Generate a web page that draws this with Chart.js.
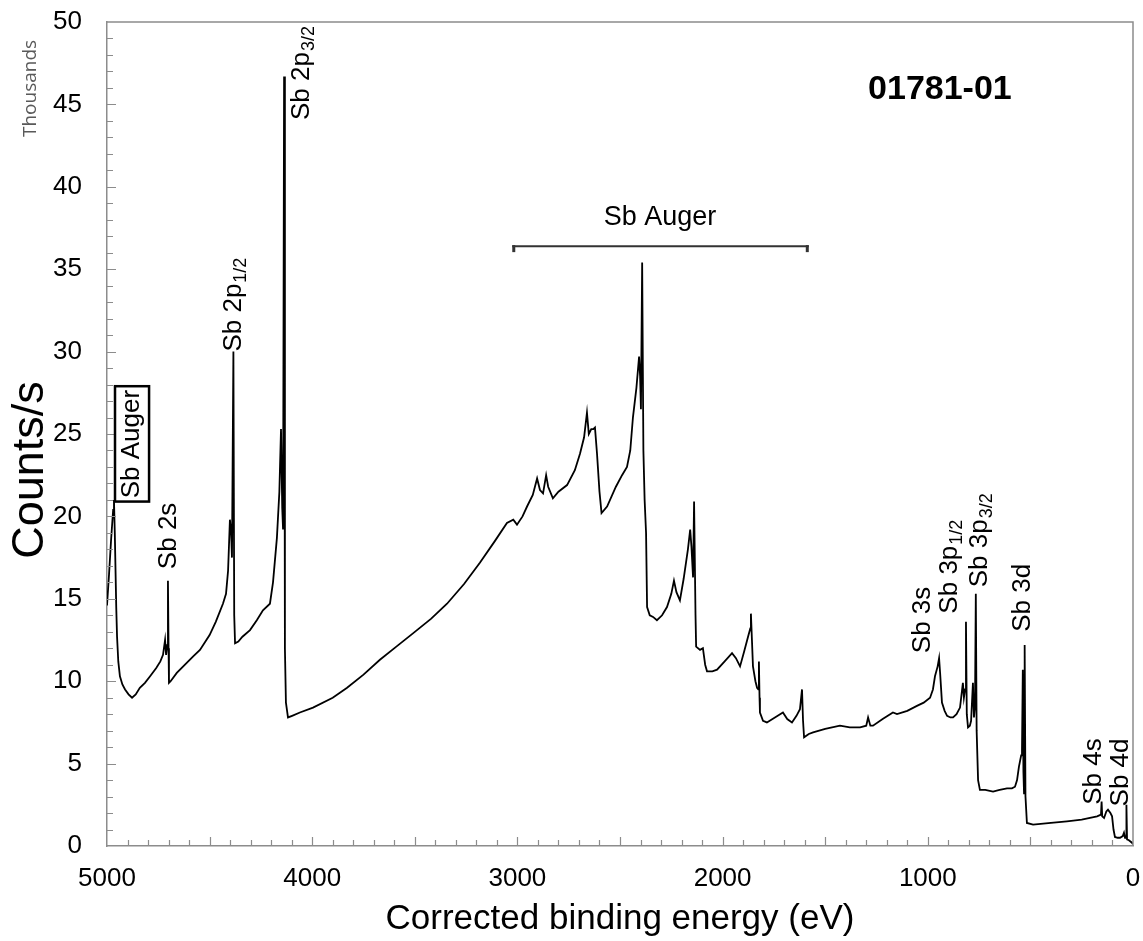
<!DOCTYPE html>
<html>
<head>
<meta charset="utf-8">
<script src="https://cdn.jsdelivr.net/npm/chart.js@4.4.1/dist/chart.umd.min.js"></script>
<style>
  html, body { margin: 0; padding: 0; background: #fff; }
</style>
</head>
<body>
<canvas id="xpsChart" width="1143" height="941"></canvas>
<script>
// ── XPS survey, sample 01781-01 ──
// binding energy (eV), descending, and counts/s in thousands
const energies = [
  5000, 4990, 4980, 4970, 4966, 4962, 4955, 4951, 4945, 4937, 4925, 4912, 4895, 4878, 4860, 4840, 4815, 4790, 4760, 4740,
  4727, 4717, 4712, 4706, 4703, 4700, 4698, 4690, 4660, 4620, 4580, 4547, 4500, 4470, 4435, 4420, 4410, 4401, 4395, 4391,
  4384, 4380, 4376, 4360, 4340, 4303, 4270, 4240, 4206, 4191, 4172, 4160, 4152, 4146, 4142, 4137, 4133, 4128, 4118, 4098,
  4060, 3996, 3900, 3830, 3750, 3670, 3590, 3509, 3420, 3343, 3260, 3182, 3110, 3051, 3020, 3002, 2975, 2953, 2925, 2904,
  2890, 2875, 2860, 2850, 2827, 2800, 2758, 2720, 2695, 2675, 2661, 2652, 2640, 2630, 2622, 2612, 2600, 2590, 2563, 2520,
  2490, 2466, 2450, 2437, 2420, 2407, 2402, 2398, 2392, 2386, 2380, 2373, 2368, 2355, 2339, 2320, 2295, 2271, 2250, 2237,
  2225, 2208, 2190, 2169, 2158, 2152, 2144, 2139, 2132, 2129, 2110, 2096, 2085, 2076, 2050, 2027, 1990, 1954, 1935, 1915,
  1895, 1876, 1865, 1862, 1857, 1852, 1840, 1832, 1826, 1823, 1820, 1818, 1803, 1784, 1745, 1706, 1685, 1662, 1640, 1623,
  1613, 1608, 1603, 1580, 1559, 1500, 1428, 1380, 1330, 1300, 1291, 1280, 1267, 1220, 1170, 1150, 1100, 1053, 1020, 989,
  975, 965, 952, 945, 940, 931, 918, 906, 890, 877, 860, 843, 829, 824, 818, 814, 810, 804, 795, 789,
  780, 775, 770, 766, 762, 755, 746, 720, 682, 650, 614, 590, 575, 565, 556, 545, 541, 537, 534, 531,
  528, 524, 517, 487, 400, 322, 250, 175, 156, 153, 150, 141, 130, 122, 110, 102, 95, 88, 75, 63,
  50, 44, 39, 34, 32, 29, 20, 5, 0
];
const counts = [
  14.6, 16.5, 18.6, 20.4, 21.0, 19.0, 14.5, 12.7, 11.2, 10.3, 9.8, 9.5, 9.2, 9.0, 9.2, 9.6, 9.9, 10.3, 10.8, 11.2,
  11.6, 12.5, 11.6, 12.2, 16.1, 12.0, 9.9, 10.0, 10.5, 11.0, 11.5, 11.9, 12.8, 13.6, 14.7, 15.3, 16.7, 19.8, 19.0, 17.5,
  30.0, 14.0, 12.3, 12.4, 12.7, 13.1, 13.7, 14.3, 14.7, 16.0, 18.7, 21.5, 25.3, 20.5, 19.2, 46.7, 12.0, 8.7, 7.8, 7.9,
  8.1, 8.4, 9.0, 9.6, 10.4, 11.3, 12.1, 12.9, 13.8, 14.7, 15.9, 17.2, 18.5, 19.6, 19.8, 19.5, 20.0, 20.6, 21.3, 22.3,
  21.6, 21.4, 22.5, 21.8, 21.1, 21.5, 21.9, 22.8, 23.8, 24.8, 26.3, 25.0, 25.3, 25.3, 25.4, 23.8, 21.5, 20.2, 20.6, 21.8,
  22.5, 23.0, 24.0, 26.0, 27.8, 29.7, 28.5, 26.5, 35.4, 24.0, 21.0, 19.0, 14.5, 14.0, 13.9, 13.7, 14.0, 14.5, 15.3, 16.1,
  15.4, 14.9, 16.2, 18.0, 19.2, 18.2, 16.3, 20.9, 14.0, 12.1, 11.9, 12.0, 11.0, 10.6, 10.6, 10.7, 11.2, 11.7, 11.4, 10.9,
  11.8, 12.7, 13.2, 14.1, 12.5, 10.9, 10.0, 9.6, 9.5, 11.2, 9.0, 8.1, 7.6, 7.5, 7.8, 8.1, 7.7, 7.5, 7.9, 8.3,
  9.5, 7.6, 6.6, 6.8, 6.9, 7.1, 7.3, 7.2, 7.2, 7.3, 7.8, 7.3, 7.3, 7.7, 8.1, 8.0, 8.2, 8.5, 8.7, 9.0,
  9.5, 10.3, 10.9, 11.4, 10.5, 8.7, 8.2, 7.9, 7.8, 7.8, 8.0, 8.4, 9.9, 9.0, 9.5, 13.6, 8.0, 7.2, 7.3, 7.6,
  9.9, 7.8, 8.5, 15.3, 7.0, 4.0, 3.4, 3.4, 3.3, 3.4, 3.5, 3.5, 3.6, 4.0, 4.8, 5.5, 5.8, 10.7, 4.5, 3.2,
  12.2, 3.0, 1.4, 1.3, 1.4, 1.5, 1.6, 1.8, 1.9, 2.7, 1.8, 1.7, 2.1, 2.2, 2.0, 1.8, 1.0, 0.55, 0.5, 0.5,
  0.6, 0.8, 0.5, 0.5, 2.5, 0.4, 0.35, 0.2, 0.1
];

const xTickStep = 1000, xMinorStep = 100;
const yTickStep = 5, yMinorStep = 1;

// peak labels: text, subscript, energy and height (thousands) where the text starts
const peakLabels = [
  { text: 'Sb 2s', sub: '',    e: 4698, v: 16.8 },
  { text: 'Sb 2p', sub: '1/2', e: 4381, v: 30.0 },
  { text: 'Sb 2p', sub: '3/2', e: 4050, v: 44.05 },
  { text: 'Sb 3s', sub: '',    e: 1023, v: 11.7 },
  { text: 'Sb 3p', sub: '1/2', e: 892,  v: 14.1 },
  { text: 'Sb 3p', sub: '3/2', e: 746,  v: 15.7 },
  { text: 'Sb 3d', sub: '',    e: 536,  v: 13.0 },
  { text: 'Sb 4s', sub: '',    e: 190,  v: 2.5 },
  { text: 'Sb 4d', sub: '',    e: 58,   v: 2.4 },
];
const augerRange = [3025, 1580];   // bracket ends (eV)
const augerLevel = 36.4;           // bracket height (thousands)

const FONT = "'Liberation Sans', Arial, sans-serif";

const decorPlugin = {
  id: 'decor',
  afterDraw(chart) {
    const { ctx, chartArea: a, scales: { x, y } } = chart;
    ctx.save();

    // top & right frame
    ctx.strokeStyle = '#8c8c8c';
    ctx.lineWidth = 1.5;
    ctx.beginPath();
    ctx.moveTo(a.left, a.top); ctx.lineTo(a.right, a.top); ctx.lineTo(a.right, a.bottom);
    ctx.stroke();

    // inward tick marks
    ctx.lineWidth = 1.2;
    ctx.beginPath();
    for (let v = y.min + yMinorStep; v < y.max; v += yMinorStep) {
      const py = Math.round(y.getPixelForValue(v)) + 0.5;
      const len = v % yTickStep === 0 ? 9 : 6;
      ctx.moveTo(a.left, py); ctx.lineTo(a.left + len, py);
    }
    for (let e = x.min + xMinorStep; e < x.max; e += xMinorStep) {
      const px = Math.round(x.getPixelForValue(e)) + 0.5;
      const len = e % 500 === 0 ? 9 : 6;
      ctx.moveTo(px, a.bottom); ctx.lineTo(px, a.bottom - len);
    }
    ctx.stroke();

    ctx.fillStyle = '#000';
    // rotated peak labels
    peakLabels.forEach(l => {
      ctx.save();
      ctx.translate(x.getPixelForValue(l.e), y.getPixelForValue(l.v));
      ctx.rotate(-Math.PI / 2);
      ctx.font = `26px ${FONT}`;
      ctx.textAlign = 'left';
      ctx.textBaseline = 'middle';
      ctx.fillText(l.text, 0, 0);
      if (l.sub) {
        const w = ctx.measureText(l.text).width;
        ctx.font = `18px ${FONT}`;
        ctx.fillText(l.sub, w + 1, 7);
      }
      ctx.restore();
    });

    // boxed Sb Auger at the left edge
    const bx0 = x.getPixelForValue(4961), bx1 = x.getPixelForValue(4795);
    const by0 = y.getPixelForValue(27.9), by1 = y.getPixelForValue(20.9);
    ctx.fillStyle = '#fff';
    ctx.fillRect(bx0, by0, bx1 - bx0, by1 - by0);
    ctx.strokeStyle = '#000';
    ctx.lineWidth = 2.5;
    ctx.strokeRect(bx0, by0, bx1 - bx0, by1 - by0);
    ctx.fillStyle = '#000';
    ctx.save();
    ctx.translate(x.getPixelForValue(4878), y.getPixelForValue(21.1));
    ctx.rotate(-Math.PI / 2);
    ctx.font = `26px ${FONT}`;
    ctx.textBaseline = 'middle';
    ctx.fillText('Sb Auger', 0, 0);
    ctx.restore();

    // Auger bracket
    const ax0 = x.getPixelForValue(augerRange[0]), ax1 = x.getPixelForValue(augerRange[1]);
    const ay = y.getPixelForValue(augerLevel);
    ctx.strokeStyle = '#333';
    ctx.lineWidth = 2;
    ctx.beginPath(); ctx.moveTo(ax0, ay); ctx.lineTo(ax1, ay); ctx.stroke();
    ctx.fillStyle = '#333';
    ctx.fillRect(ax0, ay - 1, 3, 7);
    ctx.fillRect(ax1 - 3, ay - 1, 3, 7);
    ctx.fillStyle = '#000';
    ctx.font = `27px ${FONT}`;
    ctx.textAlign = 'center';
    ctx.textBaseline = 'alphabetic';
    ctx.fillText('Sb Auger', x.getPixelForValue(2305), y.getPixelForValue(37.68));

    // sample id
    ctx.font = `bold 34px ${FONT}`;
    ctx.fillText('01781-01', x.getPixelForValue(941), y.getPixelForValue(45.33));

    // y title and unit
    ctx.save();
    ctx.translate(31, (a.top + a.bottom) / 2 + 36);
    ctx.rotate(-Math.PI / 2);
    ctx.font = `45px ${FONT}`;
    ctx.textBaseline = 'middle';
    ctx.fillText('Counts/s', 0, 0);
    ctx.restore();

    ctx.save();
    ctx.translate(31, 137);
    ctx.rotate(-Math.PI / 2);
    ctx.font = `19px 'Open Sans', sans-serif`;
    ctx.fillStyle = '#595959';
    ctx.textAlign = 'left';
    ctx.textBaseline = 'middle';
    ctx.fillText('Thousands', 0, 0);
    ctx.restore();

    ctx.restore();
  }
};

new Chart(document.getElementById('xpsChart'), {
  type: 'line',
  data: {
    datasets: [{
      data: energies.map((e, i) => ({ x: e, y: counts[i] })),
      borderColor: '#000',
      borderWidth: 1.8,
      pointRadius: 0,
      tension: 0,
      fill: false
    }]
  },
  options: {
    responsive: false,
    animation: false,
    devicePixelRatio: 1,
    layout: { padding: { top: 22, right: 10, left: 0, bottom: 0 } },
    plugins: { legend: { display: false }, tooltip: { enabled: false } },
    scales: {
      x: {
        type: 'linear', min: 0, max: 5000, reverse: true,
        afterFit: s => { s.height = 95; s.paddingLeft = 0; s.paddingRight = 0; },
        grid: { display: false, drawTicks: false },
        border: { display: true, color: '#8c8c8c', width: 1.5 },
        ticks: { stepSize: xTickStep, padding: 17, color: '#000', font: { family: FONT, size: 26 }, maxRotation: 0,
                 callback: v => String(v) },
        title: { display: true, text: 'Corrected binding energy (eV)', color: '#000', font: { family: FONT, size: 35 }, padding: { top: 0, bottom: 1 } }
      },
      y: {
        min: 0, max: 50,
        afterFit: s => { s.width = 107; s.paddingTop = 0; s.paddingBottom = 0; },
        grid: { display: false, drawTicks: false },
        border: { display: true, color: '#8c8c8c', width: 1.5 },
        ticks: { stepSize: yTickStep, padding: 25, color: '#000', font: { family: FONT, size: 26 } }
      }
    }
  },
  plugins: [decorPlugin]
});
</script>
</body>
</html>
